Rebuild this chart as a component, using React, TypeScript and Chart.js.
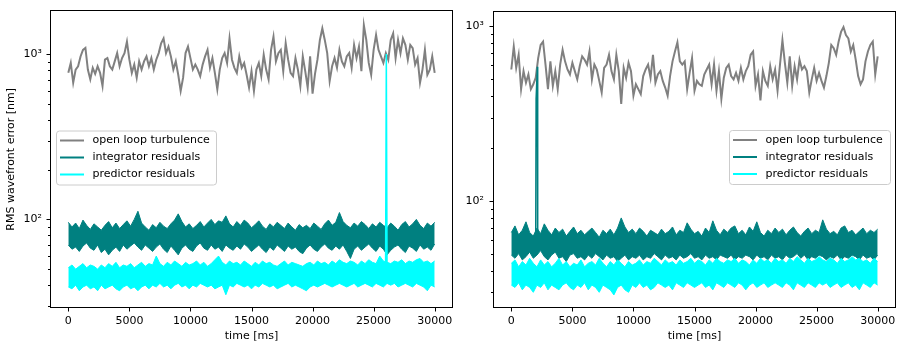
import React, { useEffect, useRef } from 'react';
import { Chart, registerables } from 'chart.js';

Chart.register(...registerables);

// ---------- data ----------
const timeMin = 0;
const timeMax = 30000;
const xTickValues = [0, 5000, 10000, 15000, 20000, 25000, 30000];
const yTickValues = [20, 30, 40, 50, 60, 70, 80, 90, 100, 200, 300, 400, 500, 600, 700, 800, 900, 1000, 2000];
const legendLabels = ['open loop turbulence', 'integrator residuals', 'predictor residuals'];
const legendColors = ['#808080', '#008080', '#00ffff'];
const leftYRange = [29.1, 1833];
const rightYRange = [24.4, 1214];

// open loop turbulence, every 200 ms
const leftOpenLoop = [
  770, 884, 671, 806, 844, 968, 1061, 1090, 806, 703,
  826, 760, 844, 770, 641, 925, 946, 844, 806, 904,
  1014, 844, 946, 1014, 1190, 925, 770, 864, 720, 904,
  806, 904, 968, 844, 946, 806, 925, 1014, 1163, 1245,
  1014, 1111, 968, 806, 904, 750, 598, 720, 1014, 1111,
  946, 806, 864, 806, 736, 864, 968, 1061, 826, 946,
  770, 612, 806, 946, 1014, 884, 1245, 925, 826, 770,
  968, 826, 884, 750, 627, 788, 598, 806, 884, 736,
  990, 806, 703, 1061, 1275, 904, 1014, 1061, 788, 1163,
  925, 770, 736, 946, 806, 641, 968, 788, 627, 968,
  576, 760, 925, 1218, 1430, 1218, 1014, 687, 844, 946,
  826, 1061, 904, 844, 968, 1014, 826, 1137, 946, 1111,
  788, 1497, 1218, 884, 750, 1061, 1305, 1061, 968, 884,
  1014, 925, 1218, 1335, 946, 1218, 1014, 1245, 1137, 925,
  1137, 1086, 864, 946, 671, 806, 1061, 750, 806, 968,
  770,
];
const rightOpenLoop = [
  566, 765, 578, 687, 437, 554, 476, 530, 437, 466,
  508, 658, 782, 817, 604, 437, 630, 456, 554, 437,
  604, 733, 630, 566, 530, 618, 554, 497, 591, 673,
  644, 604, 718, 497, 604, 566, 487, 418, 578, 604,
  687, 554, 497, 687, 554, 360, 578, 508, 618, 554,
  401, 466, 437, 409, 519, 566, 604, 508, 687, 476,
  530, 554, 487, 446, 401, 519, 630, 718, 810, 630,
  604, 630, 437, 541, 658, 428, 487, 466, 456, 530,
  566, 604, 466, 604, 428, 554, 384, 508, 578, 604,
  519, 497, 541, 487, 578, 497, 554, 591, 687, 718,
  456, 530, 376, 554, 487, 456, 591, 497, 566, 428,
  604, 834, 618, 476, 673, 456, 591, 497, 644, 566,
  591, 554, 418, 497, 578, 487, 541, 487, 446, 519,
  618, 782, 749, 687, 817, 929, 990, 890, 852, 718,
  782, 644, 519, 466, 497, 630, 718, 782, 817, 530,
  673,
];

// residual bands: upper and lower envelopes, every 300 ms
const leftIntegratorHigh = [
  96, 90, 95, 88, 99, 92, 87, 94, 90, 86, 92, 97, 89, 95, 88, 93, 98, 91, 100, 112,
  95, 90, 86, 93, 89, 96, 91, 88, 94, 99, 108, 97, 90, 94, 88, 92, 97, 90, 95, 100,
  93, 98, 96, 105, 94, 90, 97, 92, 99, 95, 89, 93, 98, 91, 87, 94, 90, 96, 92, 88,
  95, 90, 86, 93, 89, 92, 88, 95, 91, 87, 94, 99, 92, 96, 110, 97, 92, 89, 95, 91,
  97, 93, 88, 94, 90, 96, 92, 89, 95, 91, 86, 93, 97, 90, 94, 100, 92, 88, 95, 91, 96,
];
const leftIntegratorLow = [
  70, 66, 68, 64, 69, 72, 67, 65, 70, 63, 66, 61, 65, 68, 64, 70, 66, 69, 72, 68,
  65, 70, 67, 64, 68, 71, 66, 63, 69, 65, 61, 67, 70, 66, 64, 69, 72, 67, 65, 70,
  66, 68, 64, 70, 67, 65, 69, 66, 71, 68, 64, 67, 70, 66, 63, 68, 65, 70, 67, 64,
  69, 66, 68, 64, 62, 67, 70, 66, 64, 68, 71, 67, 65, 69, 66, 70, 64, 58, 66, 69,
  65, 68, 71, 67, 64, 69, 66, 61, 65, 68, 70, 66, 63, 69, 67, 64, 70, 66, 68, 65, 71,
];
const leftPredictorHigh = [
  51, 53, 50, 52, 54, 51, 53, 52, 50, 53, 51, 54, 52, 55, 51, 53, 52, 54, 51, 53,
  55, 52, 54, 53, 60, 54, 52, 55, 53, 56, 54, 52, 55, 53, 54, 56, 53, 55, 52, 54,
  57, 60, 55, 53, 56, 54, 55, 53, 56, 54, 52, 55, 53, 56, 54, 55, 53, 52, 54, 56,
  53, 55, 54, 53, 52, 54, 55, 53, 56, 54, 55, 53, 56, 54, 57, 55, 54, 56, 55, 53,
  56, 54, 57, 55, 54, 60, 56, 55, 54, 56, 55, 57, 54, 56, 55, 57, 58, 55, 56, 54, 56,
];
const leftPredictorLow = [
  39, 38, 40, 37, 39, 40, 38, 39, 37, 40, 38, 39, 40, 38, 37, 39, 40, 38, 39, 37,
  39, 40, 38, 40, 39, 41, 39, 40, 38, 40, 41, 39, 40, 38, 40, 39, 41, 40, 39, 40,
  38, 39, 40, 35, 40, 39, 41, 40, 39, 40, 38, 40, 39, 41, 40, 39, 40, 38, 39, 40,
  41, 39, 40, 39, 38, 37, 39, 40, 39, 40, 41, 40, 39, 40, 41, 40, 39, 40, 41, 39,
  40, 41, 40, 39, 41, 40, 39, 41, 40, 41, 39, 40, 41, 40, 39, 41, 40, 39, 37, 40, 39,
];
const rightIntegratorHigh = [
  66, 72, 64, 68, 76, 66, 63, 70, 65, 74, 68, 64, 70, 66, 69, 63, 67, 71, 65, 68,
  64, 67, 70, 66, 62, 68, 65, 69, 64, 70, 80, 71, 66, 69, 65, 70, 67, 63, 68, 66,
  64, 69, 65, 67, 71, 64, 68, 66, 75, 69, 65, 67, 63, 70, 66, 77, 68, 64, 69, 66,
  70, 72, 65, 68, 64, 71, 67, 76, 66, 63, 68, 65, 70, 66, 69, 64, 68, 71, 66, 63,
  67, 70, 65, 68, 66, 78, 69, 65, 67, 64, 70, 72, 66, 68, 64, 67, 70, 65, 68, 66, 69,
];
const rightIntegratorLow = [
  49, 47, 50, 46, 48, 51, 47, 49, 52, 48, 46, 49, 51, 47, 48, 45, 49, 50, 47, 48,
  46, 49, 47, 50, 48, 46, 49, 47, 48, 45, 47, 49, 46, 48, 47, 49, 46, 48, 47, 50,
  48, 46, 49, 47, 48, 46, 49, 47, 48, 50, 47, 48, 46, 49, 47, 48, 46, 49, 48, 47,
  49, 46, 48, 47, 49, 48, 46, 49, 47, 48, 46, 49, 47, 48, 46, 49, 47, 48, 50, 47,
  49, 46, 48, 47, 49, 48, 46, 48, 47, 49, 46, 48, 47, 49, 48, 46, 49, 47, 48, 46, 49,
];
const rightPredictorHigh = [
  44, 46, 42, 45, 43, 47, 44, 42, 46, 43, 45, 42, 44, 47, 43, 45, 42, 44, 43, 46,
  42, 44, 45, 43, 47, 44, 42, 45, 43, 46, 44, 42, 45, 43, 44, 46, 43, 45, 44, 47,
  45, 43, 46, 44, 45, 43, 46, 44, 45, 47, 44, 46, 45, 43, 46, 44, 47, 45, 44, 46,
  45, 47, 44, 46, 45, 43, 46, 44, 47, 45, 46, 44, 47, 45, 46, 44, 47, 45, 48, 46,
  44, 47, 45, 46, 48, 46, 45, 47, 46, 44, 47, 45, 46, 48, 46, 47, 45, 46, 44, 47, 45,
];
const rightPredictorLow = [
  33, 32, 34, 31, 33, 32, 30, 33, 32, 34, 31, 33, 32, 31, 33, 34, 32, 31, 33, 32,
  34, 31, 33, 32, 30, 33, 32, 31, 29, 32, 33, 31, 30, 33, 32, 34, 32, 33, 31, 32,
  34, 33, 32, 33, 31, 34, 33, 32, 34, 33, 32, 33, 34, 32, 33, 31, 34, 33, 32, 34,
  33, 32, 34, 33, 31, 33, 34, 32, 33, 34, 32, 33, 34, 33, 32, 34, 33, 31, 34, 33,
  32, 34, 33, 32, 34, 33, 34, 32, 33, 34, 32, 33, 34, 32, 33, 31, 34, 33, 32, 34, 33,
];

// isolated spikes
const leftPredictorSpikeTimes = [25980, 26040, 26100];
const leftPredictorSpikeValues = [54, 1000, 52];
const rightIntegratorSpikeTimes = [2000, 2030, 2130, 2160];
const rightIntegratorSpikeValues = [62, 384, 586, 62];

// ---------- helpers ----------
const FONT_FAMILY = 'DejaVu Sans';
const FONT_SIZE = 11;

function buildSeries(values: number[]) {
  const step = (timeMax - timeMin) / (values.length - 1);
  return values.map((v, i) => ({ x: timeMin + i * step, y: v }));
}
function zipSeries(times: number[], values: number[]) {
  return times.map((t, i) => ({ x: t, y: values[i] }));
}
const isDecade = (v: number) => Math.abs(Math.log10(v) - Math.round(Math.log10(v))) < 1e-9;

const framePlugin = {
  id: 'frameTicks',
  afterDraw(chart: any) {
    const { ctx, chartArea: a, scales } = chart;
    const L = Math.floor(a.left) + 0.5;
    const R = Math.floor(a.right) - 0.5;
    const T = Math.floor(a.top) + 0.5;
    const B = Math.floor(a.bottom) - 0.5;
    ctx.save();
    ctx.strokeStyle = '#000';
    ctx.lineWidth = 1;
    ctx.strokeRect(L, T, R - L, B - T);
    ctx.beginPath();
    for (const t of scales.x.ticks) {
      const px = Math.round(scales.x.getPixelForValue(t.value)) + 0.5;
      ctx.moveTo(px, B);
      ctx.lineTo(px, B + 4);
    }
    for (const t of scales.y.ticks) {
      const py = Math.round(scales.y.getPixelForValue(t.value)) + 0.5;
      const len = isDecade(t.value) ? 4 : 2.5;
      ctx.moveTo(L, py);
      ctx.lineTo(L - len, py);
    }
    ctx.stroke();
    ctx.restore();
  },
};

const legendPlugin = {
  id: 'boxLegend',
  afterDraw(chart: any, _args: any, opts: any) {
    const { ctx } = chart;
    const { x, y, w, h } = opts;
    ctx.save();
    const r = 3;
    ctx.beginPath();
    ctx.moveTo(x + r, y);
    ctx.lineTo(x + w - r, y);
    ctx.arcTo(x + w, y, x + w, y + r, r);
    ctx.lineTo(x + w, y + h - r);
    ctx.arcTo(x + w, y + h, x + w - r, y + h, r);
    ctx.lineTo(x + r, y + h);
    ctx.arcTo(x, y + h, x, y + h - r, r);
    ctx.lineTo(x, y + r);
    ctx.arcTo(x, y, x + r, y, r);
    ctx.closePath();
    ctx.fillStyle = 'rgba(255,255,255,0.8)';
    ctx.fill();
    ctx.strokeStyle = '#cccccc';
    ctx.lineWidth = 1;
    ctx.stroke();
    ctx.font = `${FONT_SIZE}px "${FONT_FAMILY}"`;
    ctx.textBaseline = 'middle';
    ctx.textAlign = 'left';
    legendLabels.forEach((label, i) => {
      const ry = y + 9.5 + i * 17;
      ctx.beginPath();
      ctx.strokeStyle = legendColors[i];
      ctx.lineWidth = 2;
      ctx.moveTo(x + 3.5, ry);
      ctx.lineTo(x + 27.5, ry);
      ctx.stroke();
      ctx.fillStyle = '#000';
      ctx.fillText(label, x + 36, ry);
    });
    ctx.restore();
  },
};

interface SideSpec {
  openLoop: number[];
  intHigh: number[];
  intLow: number[];
  predHigh: number[];
  predLow: number[];
  spikeTimes: number[];
  spikeValues: number[];
  spikeColor: string;
  spikeOrder: number;
  yRange: number[];
  yAxisWidth: number;
  showYTitle: boolean;
  padTop: number;
  tickPad: number;
  legendBox: { x: number; y: number; w: number; h: number };
}

function makeConfig(s: SideSpec): any {
  const base = { pointRadius: 0, tension: 0, pointHoverRadius: 0 };
  const font = { family: FONT_FAMILY, size: FONT_SIZE };
  return {
    type: 'line',
    data: {
      datasets: [
        { ...base, label: legendLabels[0], data: buildSeries(s.openLoop), borderColor: legendColors[0], borderWidth: 2, fill: false, order: 10 },
        { ...base, label: legendLabels[1], data: buildSeries(s.intHigh), borderColor: legendColors[1], backgroundColor: legendColors[1], borderWidth: 1, fill: '+1', order: 8 },
        { ...base, label: '', data: buildSeries(s.intLow), borderColor: legendColors[1], borderWidth: 1, fill: false, order: 8 },
        { ...base, label: legendLabels[2], data: buildSeries(s.predHigh), borderColor: legendColors[2], backgroundColor: legendColors[2], borderWidth: 1, fill: '+1', order: 6 },
        { ...base, label: '', data: buildSeries(s.predLow), borderColor: legendColors[2], borderWidth: 1, fill: false, order: 6 },
        { ...base, label: '', data: zipSeries(s.spikeTimes, s.spikeValues), borderColor: s.spikeColor, borderWidth: 1.5, fill: false, order: s.spikeOrder },
      ],
    },
    options: {
      animation: false,
      responsive: false,
      events: [],
      layout: { padding: { top: s.padTop, right: 7, left: 0, bottom: 0 } },
      plugins: {
        legend: { display: false },
        tooltip: { enabled: false },
        boxLegend: s.legendBox,
      },
      scales: {
        x: {
          type: 'linear',
          min: -1500,
          max: 31500,
          border: { display: false },
          grid: { display: true, drawOnChartArea: false, drawTicks: true, tickLength: 4, tickColor: 'rgba(0,0,0,0)' },
          ticks: {
            autoSkip: false,
            maxRotation: 0,
            padding: 3,
            color: '#000',
            font,
            callback: (v: number) => String(v),
          },
          afterBuildTicks: (scale: any) => {
            scale.ticks = xTickValues.map((v) => ({ value: v }));
          },
          afterFit: (scale: any) => {
            scale.height = 41;
          },
          title: {
            display: true,
            text: 'time [ms]',
            color: '#000',
            font,
            padding: { top: 0, bottom: 6 },
          },
        },
        y: {
          type: 'logarithmic',
          min: s.yRange[0],
          max: s.yRange[1],
          border: { display: false },
          grid: { display: true, drawOnChartArea: false, drawTicks: true, tickLength: 4, tickColor: 'rgba(0,0,0,0)' },
          ticks: {
            autoSkip: false,
            padding: s.tickPad,
            color: '#000',
            font,
            callback: (v: number) => (v === 100 ? '10²' : v === 1000 ? '10³' : ''),
          },
          afterBuildTicks: (scale: any) => {
            scale.ticks = yTickValues
              .filter((v) => v >= s.yRange[0] && v <= s.yRange[1])
              .map((v) => ({ value: v, major: isDecade(v) }));
          },
          afterFit: (scale: any) => {
            scale.width = s.yAxisWidth;
          },
          title: {
            display: s.showYTitle,
            text: 'RMS wavefront error [nm]',
            color: '#000',
            font,
            padding: { top: 5, bottom: 0 },
          },
        },
      },
    },
    plugins: [framePlugin, legendPlugin],
  };
}

const leftSpec: SideSpec = {
  openLoop: leftOpenLoop,
  intHigh: leftIntegratorHigh,
  intLow: leftIntegratorLow,
  predHigh: leftPredictorHigh,
  predLow: leftPredictorLow,
  spikeTimes: leftPredictorSpikeTimes,
  spikeValues: leftPredictorSpikeValues,
  spikeColor: legendColors[2],
  spikeOrder: 0,
  yRange: leftYRange,
  yAxisWidth: 50,
  showYTitle: true,
  padTop: 7,
  tickPad: 4,
  legendBox: { x: 56.5, y: 131, w: 160, h: 54 },
};

const rightSpec: SideSpec = {
  openLoop: rightOpenLoop,
  intHigh: rightIntegratorHigh,
  intLow: rightIntegratorLow,
  predHigh: rightPredictorHigh,
  predLow: rightPredictorLow,
  spikeTimes: rightIntegratorSpikeTimes,
  spikeValues: rightIntegratorSpikeValues,
  spikeColor: legendColors[1],
  spikeOrder: 7,
  yRange: rightYRange,
  yAxisWidth: 33,
  showYTitle: false,
  padTop: 6,
  tickPad: 5,
  legendBox: { x: 269.5, y: 130.5, w: 161, h: 54 },
};

function Panel({ spec, left, width }: { spec: SideSpec; left: number; width: number }) {
  const ref = useRef<HTMLCanvasElement | null>(null);
  useEffect(() => {
    if (!ref.current) return;
    const chart = new Chart(ref.current, makeConfig(spec));
    return () => chart.destroy();
  }, [spec]);
  return (
    <canvas
      ref={ref}
      width={width}
      height={349}
      style={{ position: 'absolute', left, top: 0, width, height: 349 }}
    />
  );
}

export default function App() {
  return (
    <div style={{ position: 'fixed', left: 0, top: 0, width: 903, height: 349, background: '#fff' }}>
      <Panel spec={leftSpec} left={0} width={460} />
      <Panel spec={rightSpec} left={460} width={443} />
    </div>
  );
}
